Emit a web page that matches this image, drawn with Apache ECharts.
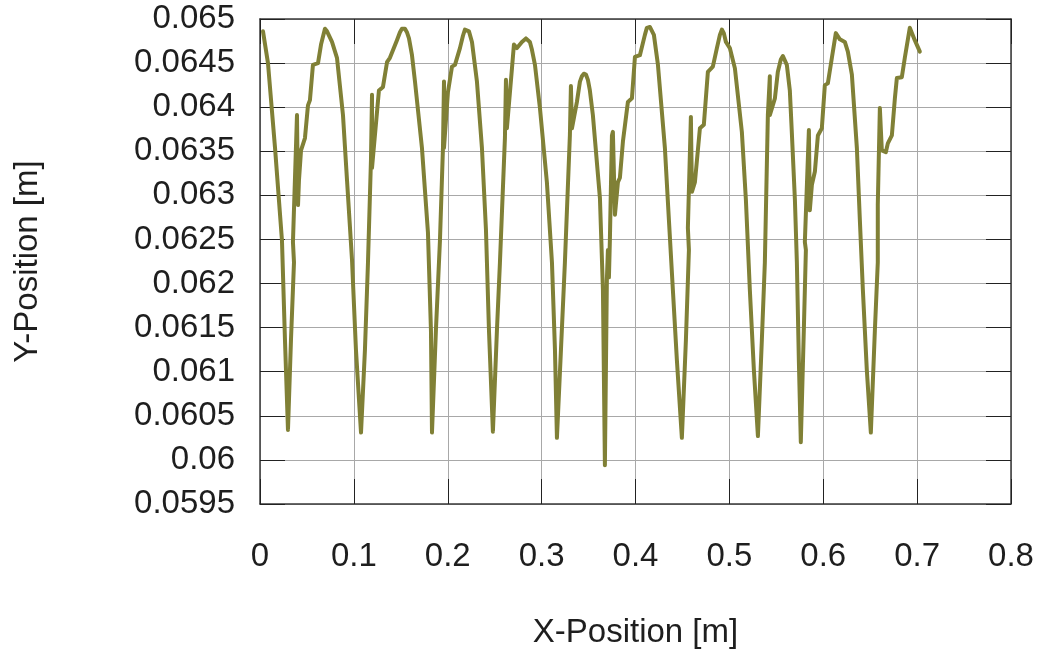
<!DOCTYPE html>
<html>
<head>
<meta charset="utf-8">
<script src="https://cdn.jsdelivr.net/npm/echarts@6/dist/echarts.min.js"></script>
<style>
  html, body { margin: 0; padding: 0; background: #ffffff; }
  #chart { width: 1044px; height: 655px; }
</style>
</head>
<body>
<div id="chart"></div>
<script>
// Traced path of the probe: X and Y positions in metres
const xPos = [
  0.0032, 0.0085, 0.0160, 0.0234, 0.0266, 0.0298, 0.0330, 0.0362, 0.0351, 0.0394,
  0.0405, 0.0415, 0.0437, 0.0479, 0.0511, 0.0532, 0.0564, 0.0618, 0.0650, 0.0692,
  0.0714, 0.0767, 0.0820, 0.0884, 0.0927, 0.0980, 0.1022, 0.1076,
  0.1118, 0.1150, 0.1182, 0.1193, 0.1193, 0.1267, 0.1310, 0.1353, 0.1384, 0.1459,
  0.1491, 0.1512, 0.1544, 0.1565, 0.1587, 0.1619, 0.1651, 0.1725, 0.1789, 0.1821, 0.1832,
  0.1874, 0.1917, 0.1949, 0.1960, 0.1960, 0.2002, 0.2045, 0.2077, 0.2130, 0.2162,
  0.2183, 0.2204, 0.2226, 0.2258, 0.2311, 0.2364, 0.2407, 0.2439, 0.2481,
  0.2524, 0.2556, 0.2609, 0.2620, 0.2630, 0.2684, 0.2705, 0.2737, 0.2790, 0.2833,
  0.2875, 0.2897, 0.2929, 0.2982, 0.3056, 0.3110, 0.3142, 0.3163,
  0.3206, 0.3248, 0.3301, 0.3312, 0.3323, 0.3376, 0.3408, 0.3429, 0.3450, 0.3472,
  0.3493, 0.3514, 0.3546, 0.3621, 0.3653, 0.3674,
  0.3695, 0.3706, 0.3717, 0.3727, 0.3749, 0.3759, 0.3781, 0.3813, 0.3834, 0.3866,
  0.3919, 0.3962, 0.3994, 0.4047, 0.4100, 0.4121, 0.4153, 0.4174, 0.4196, 0.4239,
  0.4313, 0.4356, 0.4398, 0.4441, 0.4494,
  0.4537, 0.4569, 0.4558, 0.4590, 0.4601, 0.4633, 0.4686, 0.4728, 0.4771, 0.4824,
  0.4867, 0.4899, 0.4920, 0.4941, 0.4963, 0.5005, 0.5059, 0.5133, 0.5176, 0.5218,
  0.5261, 0.5304,
  0.5346, 0.5378, 0.5410, 0.5431, 0.5431, 0.5485, 0.5516, 0.5548, 0.5570, 0.5591,
  0.5612, 0.5644, 0.5665, 0.5698, 0.5719, 0.5740, 0.5761,
  0.5793, 0.5815, 0.5804, 0.5847, 0.5857, 0.5879, 0.5911, 0.5943, 0.5985, 0.6017,
  0.6049, 0.6092, 0.6134, 0.6177, 0.6230, 0.6262, 0.6305, 0.6358, 0.6390, 0.6422,
  0.6464, 0.6507,
  0.6550, 0.6581, 0.6581, 0.6603, 0.6624, 0.6667, 0.6688, 0.6731, 0.6763, 0.6784,
  0.6837, 0.6869, 0.6922, 0.6975, 0.7029
];
const yPos = [
  0.06486, 0.06450, 0.06354, 0.06249, 0.06136, 0.06034, 0.06136, 0.06224, 0.06247, 0.06391,
  0.06289, 0.06317, 0.06351, 0.06365, 0.06402, 0.06408, 0.06448, 0.06450, 0.06471, 0.06489,
  0.06486, 0.06474, 0.06456, 0.06391, 0.06317, 0.06227, 0.06125, 0.06031,
  0.06125, 0.06223, 0.06340, 0.06414, 0.06331, 0.06419, 0.06423, 0.06451, 0.06456, 0.06476,
  0.06485, 0.06489, 0.06489, 0.06485, 0.06478, 0.06459, 0.06429, 0.06354, 0.06258, 0.06147, 0.06031,
  0.06147, 0.06249, 0.06354, 0.06429, 0.06354, 0.06417, 0.06446, 0.06448, 0.06467, 0.06481,
  0.06488, 0.06489, 0.06486, 0.06474, 0.06429, 0.06354, 0.06261, 0.06147, 0.06032,
  0.06147, 0.06224, 0.06365, 0.06431, 0.06376, 0.06444, 0.06471, 0.06467, 0.06474, 0.06478,
  0.06474, 0.06465, 0.06448, 0.06399, 0.06315, 0.06224, 0.06125, 0.06025,
  0.06125, 0.06224, 0.06368, 0.06424, 0.06376, 0.06406, 0.06429, 0.06435, 0.06438, 0.06437,
  0.06431, 0.06419, 0.06391, 0.06297, 0.06193, 0.05994,
  0.06204, 0.06238, 0.06207, 0.06249, 0.06368, 0.06372, 0.06278, 0.06315, 0.06320, 0.06361,
  0.06406, 0.06410, 0.06457, 0.06459, 0.06482, 0.06490, 0.06491, 0.06489, 0.06482, 0.06448,
  0.06354, 0.06272, 0.06193, 0.06113, 0.06025,
  0.06136, 0.06238, 0.06263, 0.06389, 0.06304, 0.06315, 0.06376, 0.06380, 0.06440, 0.06446,
  0.06467, 0.06482, 0.06488, 0.06484, 0.06474, 0.06467, 0.06444, 0.06372, 0.06295, 0.06193,
  0.06102, 0.06027,
  0.06136, 0.06224, 0.06391, 0.06435, 0.06391, 0.06410, 0.06440, 0.06454, 0.06458, 0.06457,
  0.06448, 0.06419, 0.06372, 0.06295, 0.06224, 0.06113, 0.06020,
  0.06147, 0.06238, 0.06247, 0.06374, 0.06283, 0.06312, 0.06327, 0.06368, 0.06376, 0.06425,
  0.06427, 0.06456, 0.06484, 0.06477, 0.06474, 0.06463, 0.06437, 0.06354, 0.06272, 0.06193,
  0.06102, 0.06031,
  0.06147, 0.06224, 0.06289, 0.06399, 0.06351, 0.06349, 0.06359, 0.06368, 0.06410, 0.06433,
  0.06434, 0.06456, 0.06490, 0.06476, 0.06463
];

const xTitle = 'X-Position [m]';
const yTitle = 'Y-Position [m]';

const path = xPos.map((x, i) => [x, yPos[i]]);

const FONT = '"Liberation Sans", Arial, Helvetica, sans-serif';
const TEXT = '#1e1e1e';
const FRAME = '#3a3a3a';
const GRID = '#a8a8a8';
const LINE = '#808036';

const chart = echarts.init(document.getElementById('chart'), null, { renderer: 'canvas' });

// Inward ticks, drawn on all four sides of the frame
const inTick = { show: true, inside: true, length: 25, lineStyle: { color: '#222', width: 1 } };
const frameLine = { show: true, onZero: false, lineStyle: { color: FRAME, width: 1.5 } };

chart.setOption({
  animation: false,
  backgroundColor: '#ffffff',
  grid: { left: 260, top: 19, right: 33, bottom: 151, containLabel: false },
  xAxis: [
    {
      type: 'value', min: 0, max: 0.8, interval: 0.1, position: 'bottom',
      axisLine: frameLine, axisTick: inTick,
      axisLabel: { fontFamily: FONT, fontSize: 33, color: TEXT, margin: 36 },
      splitLine: { show: true, lineStyle: { color: GRID, width: 1 } }
    },
    {
      type: 'value', min: 0, max: 0.8, interval: 0.1, position: 'top',
      axisLine: frameLine, axisTick: inTick,
      axisLabel: { show: false }, splitLine: { show: false }
    }
  ],
  yAxis: [
    {
      type: 'value', min: 0.0595, max: 0.065, interval: 0.0005, position: 'left',
      axisLine: frameLine, axisTick: inTick,
      axisLabel: { fontFamily: FONT, fontSize: 33, color: TEXT, margin: 25,
        formatter: v => String(+v.toFixed(5)) },
      splitLine: { show: true, lineStyle: { color: GRID, width: 1 } }
    },
    {
      type: 'value', min: 0.0595, max: 0.065, interval: 0.0005, position: 'right',
      axisLine: frameLine, axisTick: inTick,
      axisLabel: { show: false }, splitLine: { show: false }
    }
  ],
  series: [
    {
      type: 'line',
      xAxisIndex: 0, yAxisIndex: 0,
      data: path,
      showSymbol: false,
      smooth: false,
      lineStyle: { color: LINE, width: 4, join: 'round', cap: 'round' },
      itemStyle: { color: LINE },
      z: 5
    }
  ]
});

// Axis titles, centred on the plot area
const rect = chart.getModel().getComponent('grid', 0).coordinateSystem.getRect();
chart.setOption({
  graphic: [
    {
      type: 'text',
      x: rect.x + rect.width / 2, y: 633,
      style: { text: xTitle, font: '33px ' + FONT, fill: TEXT, textAlign: 'center', textVerticalAlign: 'middle' }
    },
    {
      type: 'text',
      x: 28, y: rect.y + rect.height / 2, rotation: Math.PI / 2,
      style: { text: yTitle, font: '33px ' + FONT, fill: TEXT, textAlign: 'center', textVerticalAlign: 'middle' }
    }
  ]
});
</script>
</body>
</html>
